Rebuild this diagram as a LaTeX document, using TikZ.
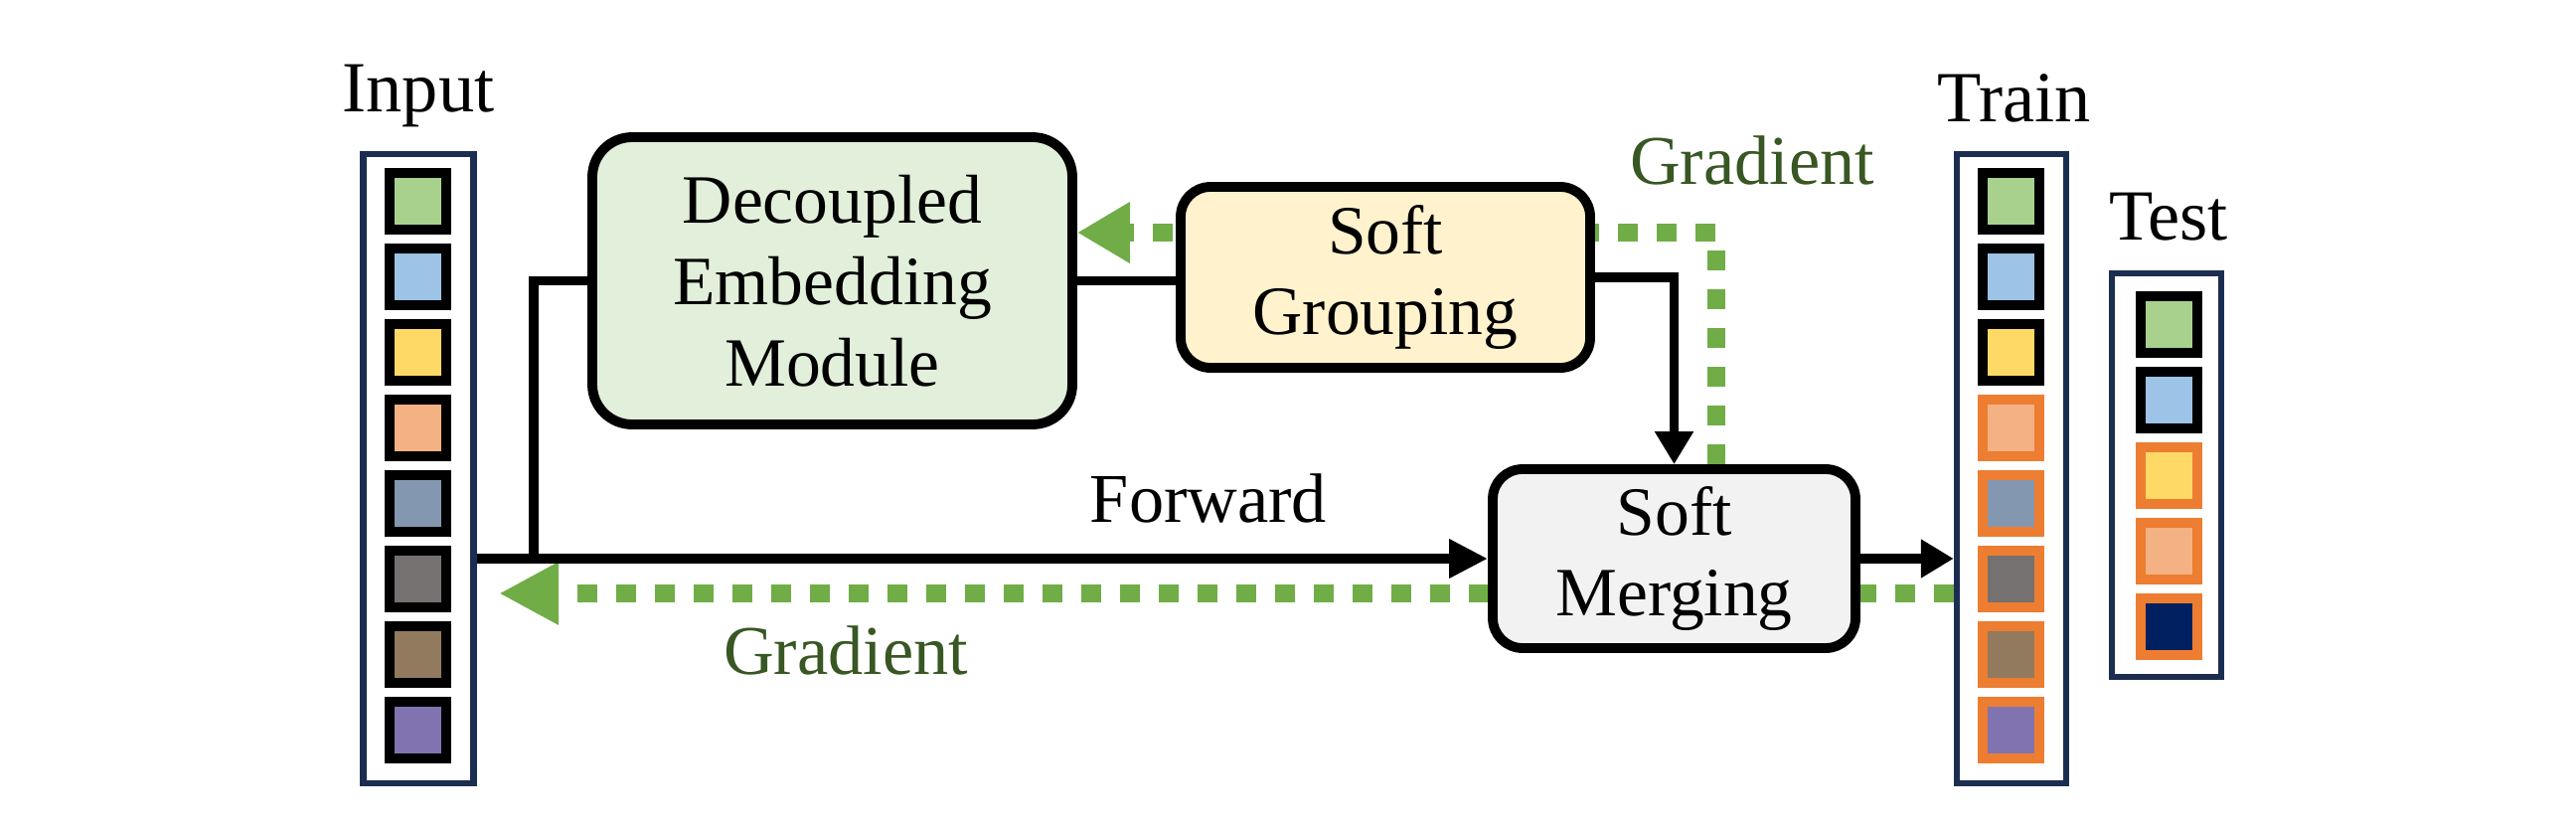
\documentclass[tikz,border=0pt]{standalone}
\usepackage{fontspec}
\setmainfont{Liberation Serif}
\usepackage{xcolor}
\usetikzlibrary{arrows.meta, backgrounds}
\definecolor{framenavy}{RGB}{28, 45, 82}
\definecolor{tokgreen}{RGB}{169, 209, 142}
\definecolor{tokblue}{RGB}{157, 195, 230}
\definecolor{tokyellow}{RGB}{255, 217, 102}
\definecolor{tokpeach}{RGB}{244, 177, 131}
\definecolor{toksteel}{RGB}{132, 151, 176}
\definecolor{tokgray}{RGB}{118, 113, 113}
\definecolor{tokbrown}{RGB}{146, 122, 94}
\definecolor{tokpurple}{RGB}{128, 115, 176}
\definecolor{toknavy}{RGB}{0, 32, 96}
\definecolor{hotorange}{RGB}{237, 125, 49}
\definecolor{demgreen}{RGB}{226, 239, 218}
\definecolor{sgcream}{RGB}{255, 242, 204}
\definecolor{smgray}{RGB}{242, 242, 242}
\definecolor{gradgreen}{RGB}{112, 173, 71}
\definecolor{graddark}{RGB}{56, 87, 35}

\begin{document}
\begin{tikzpicture}[
    box/.style={draw=black, line width=2.8pt, rounded corners=0.4cm, align=center, font=\fontsize{19.8}{23.3}\selectfont},
    tok/.style={draw=black, line width=0.1cm, minimum width=0.57cm, minimum height=0.57cm, inner sep=0pt},
    hot/.style={tok, draw=hotorange},
    frame/.style={draw=framenavy, line width=0.065cm, inner sep=0pt},
    flow/.style={black, line width=2.8pt},
    grad/.style={gradgreen, line width=0.185cm, dash pattern=on 0.2cm off 0.19cm},
    lbl/.style={anchor=base, font=\fontsize{20}{24}\selectfont}
]
    \useasboundingbox (0,0) rectangle (25.92,8.33);

    % Input tokens
    \foreach \c [count=\i] in {tokgreen, tokblue, tokyellow, tokpeach, toksteel, tokgray, tokbrown, tokpurple}
        \node[tok, fill=\c] (in\i) at (4.205, 7.07-0.76*\i) {};
    \node[frame, minimum width=1.114cm, minimum height=6.33cm] (inbox) at (4.21, 3.615) {};
    \node[lbl, font=\fontsize{20.6}{24}\selectfont] (intitle) at (4.21, 7.21) {Input};

    % Train tokens
    \foreach \c/\s [count=\i] in {tokgreen/tok, tokblue/tok, tokyellow/tok, tokpeach/hot, toksteel/hot, tokgray/hot, tokbrown/hot, tokpurple/hot}
        \node[\s, fill=\c] (tr\i) at (20.235, 7.07-0.76*\i) {};
    \node[frame, minimum width=1.10cm, minimum height=6.33cm] (trbox) at (20.24, 3.615) {};
    \node[lbl, font=\fontsize{20.6}{24}\selectfont] (trtitle) at (20.27, 7.11) {Train};

    % Test tokens
    \foreach \c/\s [count=\i] in {tokgreen/tok, tokblue/tok, tokyellow/hot, tokpeach/hot, toknavy/hot}
        \node[\s, fill=\c] (te\i) at (21.825, 5.825-0.76*\i) {};
    \node[frame, minimum width=1.10cm, minimum height=4.06cm] (tebox) at (21.80, 3.55) {};
    \node[lbl, font=\fontsize{20.6}{24}\selectfont] (tetitle) at (21.82, 5.92) {Test};

    % Modules
    \node[box, fill=demgreen, minimum width=4.83cm, minimum height=2.89cm] (dem) at (8.375, 5.505) {Decoupled\\Embedding\\Module};
    \node[box, fill=sgcream, rounded corners=0.3cm, minimum width=4.12cm, minimum height=1.82cm] (sg) at (13.94, 5.54) {Soft\\Grouping};
    \node[box, fill=smgray, rounded corners=0.3cm, minimum width=3.65cm, minimum height=1.80cm] (sm) at (16.845, 2.71) {Soft\\Merging};

    % Forward path
    \coordinate (split) at (5.37, 2.71);
    \draw[flow, -{Triangle[length=0.39cm, width=0.37cm]}] (sm.west -| inbox.east) -- (sm.west);
    \draw[flow] (split) |- (dem.west);
    \draw[flow] (dem.east) -- (dem.east -| sg.west);
    \draw[flow, -{Triangle[length=0.33cm, width=0.37cm]}] (sg.east) -| (sm.north);
    \draw[flow, -{Triangle[length=0.33cm, width=0.37cm]}] (sm.east) -- (sm.east -| trbox.west);
    \node[lbl] (fwdlbl) at (12.16, 3.08) {Forward};

    % Gradient paths (behind the modules)
    \begin{scope}[on background layer]
        \coordinate (gturn) at (17.27, 5.99);
        \draw[grad, -{Triangle[length=0.53cm, width=0.58cm]}] (gturn |- sm.north) -- (gturn) -- (gturn -| dem.east);
        \coordinate (gend) at (5.02, 2.36);
        \draw[grad, -{Triangle[length=0.60cm, width=0.59cm]}] (trbox.west |- gend) -- (gend);
    \end{scope}
    \node[lbl, text=graddark] (gradtop) at (17.63, 6.48) {Gradient};
    \node[lbl, text=graddark] (gradbot) at (8.51, 1.55) {Gradient};
\end{tikzpicture}
\end{document}
